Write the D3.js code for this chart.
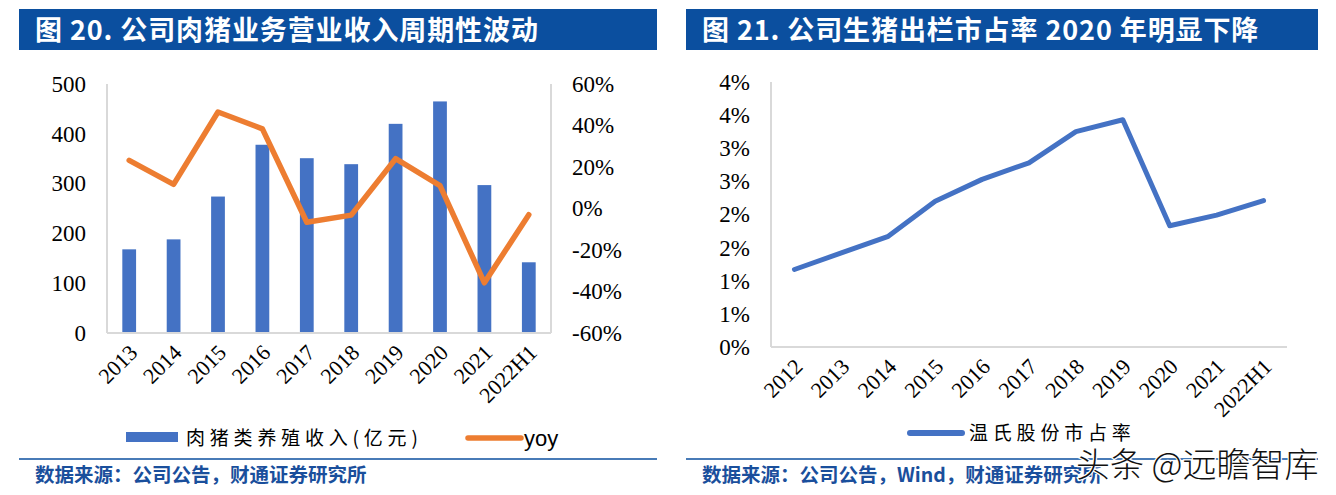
<!DOCTYPE html>
<html><head><meta charset="utf-8">
<script src="https://cdn.jsdelivr.net/npm/d3@7"></script>
<style>
html,body{margin:0;padding:0;background:#fff;}
svg{display:block;}
</style></head>
<body>
<svg id="c" width="1336" height="495"></svg>
<script>
// ---- data ----
const titleLeft = "图 20. 公司肉猪业务营业收入周期性波动";
const titleRight = "图 21. 公司生猪出栏市占率 2020 年明显下降";
const categoriesLeft = ["2013","2014","2015","2016","2017","2018","2019","2020","2021","2022H1"];
const revenue = [168, 188, 274, 378, 351, 339, 420, 465, 297, 142];
const yoy = [23.2, 11.6, 46.5, 38.4, -6.6, -3.2, 24.0, 11.0, -35.8, -3.0];
const leftTicks = [0, 100, 200, 300, 400, 500];
const rightTicks = [-60, -40, -20, 0, 20, 40, 60];
const categoriesRight = ["2012","2013","2014","2015","2016","2017","2018","2019","2020","2021","2022H1"];
const share = [1.17, 1.42, 1.67, 2.20, 2.53, 2.78, 3.25, 3.43, 1.83, 1.99, 2.21];
const shareTicks = [0, 0.5, 1, 1.5, 2, 2.5, 3, 3.5, 4];
const legendLeft = ["肉猪类养殖收入(亿元)", "yoy"];
const legendRight = ["温氏股份市占率"];
const sourceLeft = "数据来源：公司公告，财通证券研究所";
const sourceRight = "数据来源：公司公告，Wind，财通证券研究所";
const watermark = "头条 @远瞻智库";

const BLUE = "#4472C4", ORANGE = "#ED7D31", NAVY = "#0b4f9f", AXIS = "#d9d9d9";
const SERIF = "'Liberation Serif','Times New Roman',serif";
const CJK = "'Noto Sans CJK SC','Noto Sans',sans-serif";

const svg = d3.select("#c");

function header(x0, x1, text) {
  svg.append("rect").attr("x", x0).attr("y", 9).attr("width", x1 - x0).attr("height", 41).attr("fill", NAVY);
  svg.append("text").attr("x", x0 + 16).attr("y", 40).attr("fill", "#fff")
    .attr("font-family", CJK).attr("font-weight", "bold").attr("font-size", 27)
    .attr("letter-spacing", 0.9).text(text);
}
function footer(x0, x1, text) {
  svg.append("line").attr("x1", x0).attr("x2", x1).attr("y1", 459).attr("y2", 459)
    .attr("stroke", NAVY).attr("stroke-width", 1.5);
  svg.append("text").attr("x", x0 + 16).attr("y", 482).attr("fill", "#1a4f9c")
    .attr("font-family", CJK).attr("font-weight", "bold").attr("font-size", 19.5).text(text);
}
function styleAxis(g, size) {
  g.select(".domain").remove();
  g.selectAll(".tick line").remove();
  g.selectAll("text").attr("font-family", SERIF).attr("font-size", size).attr("fill", "#000");
}

// ================= LEFT CHART =================
header(19, 657, titleLeft);
const L = {x0: 107, x1: 551, top: 84, bot: 333};
const xL = d3.scaleBand().domain(categoriesLeft).range([L.x0, L.x1]).paddingInner(0.69).paddingOuter(0.345);
const xLp = d3.scalePoint().domain(categoriesLeft).range([L.x0, L.x1]).padding(0.5);
const yL = d3.scaleLinear().domain([0, 500]).range([L.bot, L.top]);
const yR = d3.scaleLinear().domain([-60, 60]).range([L.bot, L.top]);

// axis lines
svg.append("line").attr("x1", L.x0).attr("x2", L.x0).attr("y1", L.top).attr("y2", L.bot).attr("stroke", AXIS).attr("stroke-width", 2);
svg.append("line").attr("x1", L.x1).attr("x2", L.x1).attr("y1", L.top).attr("y2", L.bot).attr("stroke", AXIS).attr("stroke-width", 2);

// bars
svg.append("g").selectAll("rect").data(revenue).join("rect")
  .attr("x", (d, i) => xL(categoriesLeft[i]))
  .attr("width", xL.bandwidth())
  .attr("y", d => yL(d))
  .attr("height", d => yL(0) - yL(d))
  .attr("fill", BLUE);

svg.append("line").attr("x1", L.x0).attr("x2", L.x1).attr("y1", L.bot).attr("y2", L.bot).attr("stroke", AXIS).attr("stroke-width", 2);

// yoy line
svg.append("path").datum(yoy)
  .attr("d", d3.line().x((d, i) => xLp(categoriesLeft[i])).y(d => yR(d)))
  .attr("fill", "none").attr("stroke", ORANGE).attr("stroke-width", 5.5)
  .attr("stroke-linejoin", "round").attr("stroke-linecap", "round");

// axes
svg.append("g").attr("transform", `translate(${L.x0 - 21},0)`)
  .call(d3.axisLeft(yL).tickValues(leftTicks).tickSize(0).tickPadding(0))
  .call(g => styleAxis(g, 23));
svg.append("g").attr("transform", `translate(${L.x1 + 21},0)`)
  .call(d3.axisRight(yR).tickValues(rightTicks).tickSize(0).tickPadding(0).tickFormat(d => d + "%"))
  .call(g => styleAxis(g, 23));
svg.append("g").attr("transform", `translate(0,${L.bot})`)
  .call(d3.axisBottom(xLp).tickSize(0).tickPadding(0))
  .call(g => {
    styleAxis(g, 22);
    g.selectAll("text").attr("text-anchor", "end").attr("dy", null).attr("y", 0)
      .attr("transform", "translate(9,21) rotate(-45)");
  });

// legend left
svg.append("rect").attr("x", 126).attr("y", 432).attr("width", 52).attr("height", 10).attr("fill", BLUE);
svg.append("text").attr("x", 186).attr("y", 445).attr("font-family", CJK).attr("font-size", 19)
  .attr("letter-spacing", 4.8).attr("fill", "#000").text(legendLeft[0]);
svg.append("line").attr("x1", 468).attr("x2", 521).attr("y1", 438).attr("y2", 438)
  .attr("stroke", ORANGE).attr("stroke-width", 5.5).attr("stroke-linecap", "round");
svg.append("text").attr("x", 524).attr("y", 446).attr("font-family", "'Liberation Sans',Arial,sans-serif")
  .attr("font-size", 22).attr("fill", "#000").text(legendLeft[1]);

footer(19, 657, sourceLeft);

// ================= RIGHT CHART =================
header(686, 1318, titleRight);
const R = {x0: 771, x1: 1287, top: 82, bot: 347};
const xR = d3.scalePoint().domain(categoriesRight).range([R.x0, R.x1]).padding(0.5);
const yS = d3.scaleLinear().domain([0, 4]).range([R.bot, R.top]);

svg.append("line").attr("x1", R.x0).attr("x2", R.x0).attr("y1", R.top).attr("y2", R.bot).attr("stroke", AXIS).attr("stroke-width", 2);
svg.append("line").attr("x1", R.x0).attr("x2", R.x1).attr("y1", R.bot).attr("y2", R.bot).attr("stroke", AXIS).attr("stroke-width", 2);

svg.append("path").datum(share)
  .attr("d", d3.line().x((d, i) => xR(categoriesRight[i])).y(d => yS(d)))
  .attr("fill", "none").attr("stroke", BLUE).attr("stroke-width", 5)
  .attr("stroke-linejoin", "round").attr("stroke-linecap", "round");

svg.append("g").attr("transform", `translate(${R.x0 - 21},0)`)
  .call(d3.axisLeft(yS).tickValues(shareTicks).tickSize(0).tickPadding(0).tickFormat(d => Math.round(d) + "%"))
  .call(g => styleAxis(g, 23));
svg.append("g").attr("transform", `translate(0,${R.bot})`)
  .call(d3.axisBottom(xR).tickSize(0).tickPadding(0))
  .call(g => {
    styleAxis(g, 22);
    g.selectAll("text").attr("text-anchor", "end").attr("dy", null).attr("y", 0)
      .attr("transform", "translate(9,21) rotate(-45)");
  });

// legend right
svg.append("line").attr("x1", 910).attr("x2", 962).attr("y1", 433).attr("y2", 433)
  .attr("stroke", BLUE).attr("stroke-width", 6).attr("stroke-linecap", "round");
svg.append("text").attr("x", 969).attr("y", 440).attr("font-family", CJK).attr("font-size", 19)
  .attr("letter-spacing", 4.8).attr("fill", "#000").text(legendRight[0]);

footer(686, 1318, sourceRight);

// watermark
svg.append("text").attr("x", 1076).attr("y", 477).attr("font-family", CJK).attr("font-size", 34)
  .attr("font-weight", 300).attr("fill", "#111").attr("stroke", "#fff").attr("stroke-width", 2.5)
  .attr("paint-order", "stroke").text(watermark);
</script>
</body></html>
